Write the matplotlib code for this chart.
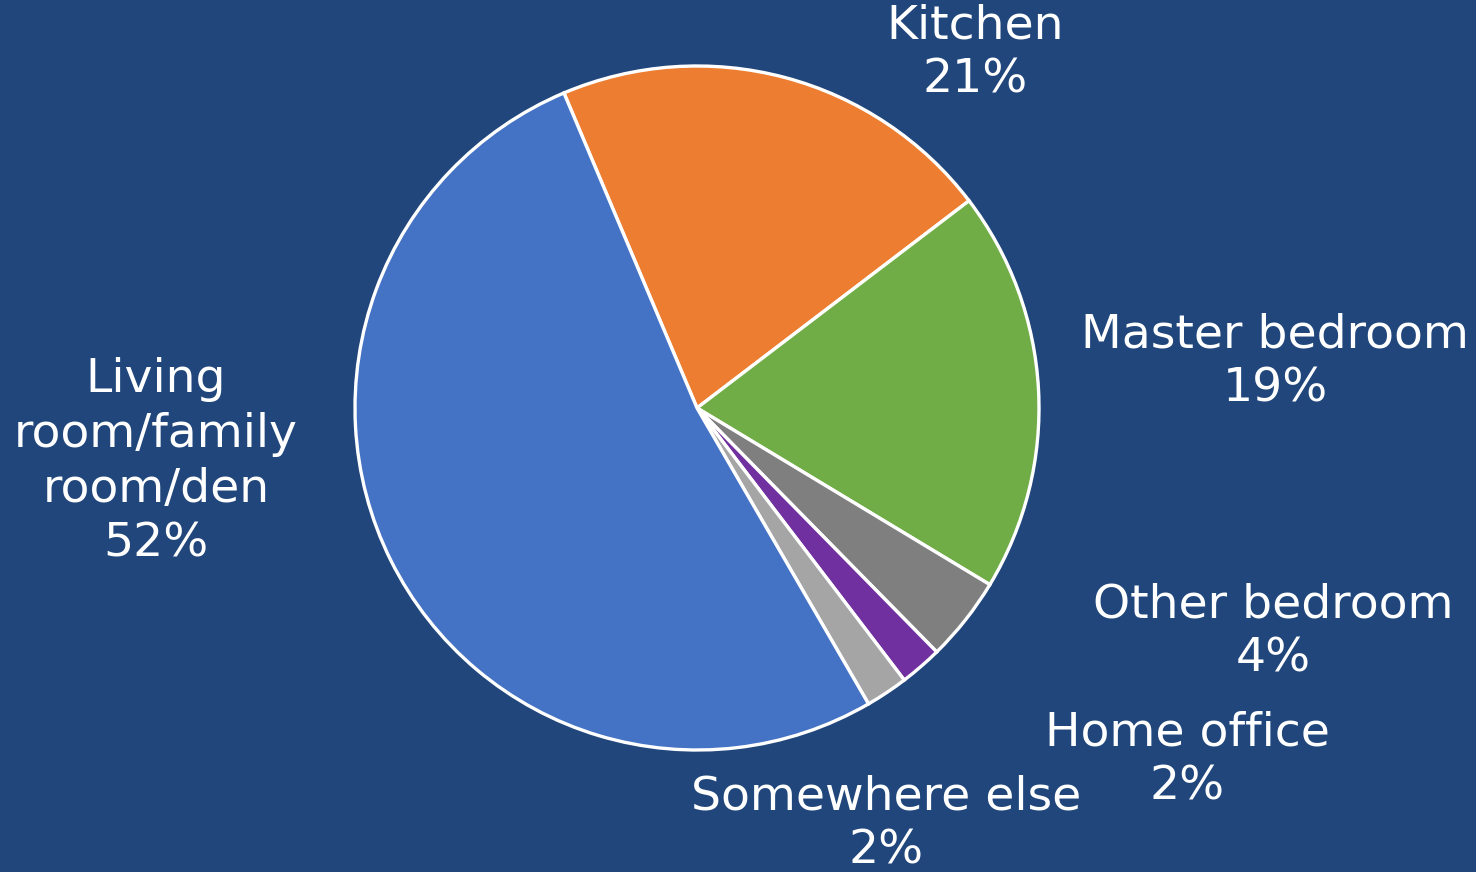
"""
Where people watch: pie chart on dark blue background.
"""

import matplotlib
matplotlib.use("Agg")
import matplotlib.pyplot as plt

# data (clockwise from the Kitchen slice)
rooms = ["Kitchen", "Master bedroom", "Other bedroom", "Home office",
         "Somewhere else", "Living\nroom/family\nroom/den"]
shares = [21, 19, 4, 2, 2, 52]
colors = ["#ED7D31", "#70AD47", "#7F7F7F", "#7030A0", "#A5A5A5", "#4472C4"]

# label centres in pixels (x, y from top)
label_pos = [(975, 53), (1275, 362), (1273, 632), (1187, 760), (886, 824), (156, 462)]

BG = "#20467B"
W, H = 1476, 872

plt.rcParams["font.family"] = ["DejaVu Sans"]

fig = plt.figure(figsize=(W / 100, H / 100), dpi=100, facecolor=BG)
ax = fig.add_axes([0, 0, 1, 1])
ax.set_facecolor(BG)

ax.pie(
    shares,
    colors=colors,
    startangle=112.9,
    counterclock=False,
    center=(697, H - 408),
    radius=342,
    wedgeprops={"linewidth": 2.4, "edgecolor": "white"},
    frame=True,
)

for room, share, (x, y) in zip(rooms, shares, label_pos):
    ax.text(x, H - y, f"{room}\n{share}%", ha="center", va="center",
            color="white", fontsize=34, linespacing=1.28)

ax.set_xlim(0, W)
ax.set_ylim(0, H)
ax.set_aspect("equal")
ax.axis("off")

plt.savefig("out.png", dpi=100, facecolor=BG)
